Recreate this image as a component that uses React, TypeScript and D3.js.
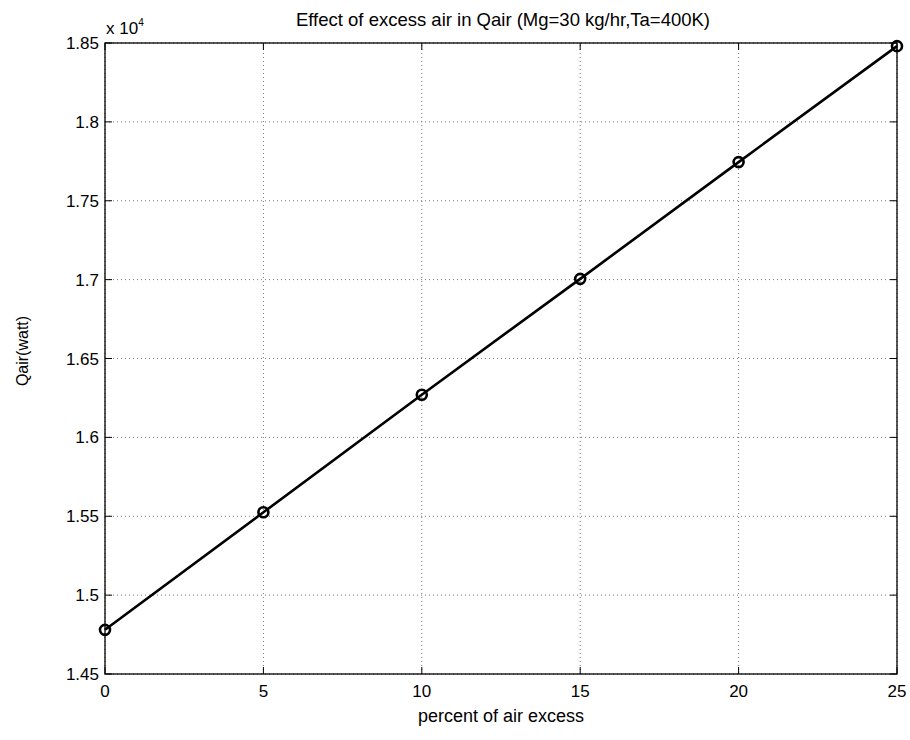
import React from "react";
import * as d3 from "d3";

const excessPercent = [0, 5, 10, 15, 20, 25];
const qairWatt = [14780, 15525, 16270, 17005, 17745, 18480];
const xTicks = [0, 5, 10, 15, 20, 25];
const yTicks = [1.45, 1.5, 1.55, 1.6, 1.65, 1.7, 1.75, 1.8, 1.85];
const yTickLabels = ["1.45", "1.5", "1.55", "1.6", "1.65", "1.7", "1.75", "1.8", "1.85"];
const titleText = "Effect of excess air in Qair (Mg=30 kg/hr,Ta=400K)";
const xLabelText = "percent of air excess";
const yLabelText = "Qair(watt)";

const W = 910;
const H = 740;
const M = { left: 105, right: 13, top: 43, bottom: 66 };
const FONT = "'Liberation Sans', Arial, sans-serif";

export default function App() {
  const x = d3.scaleLinear().domain([0, 25]).range([M.left, W - M.right]);
  const y = d3.scaleLinear().domain([1.45, 1.85]).range([H - M.bottom, M.top]);
  const line = d3
    .line<number>()
    .x((_, i) => x(excessPercent[i]))
    .y((d) => y(d / 1e4));
  const x0 = M.left, x1 = W - M.right, y0 = H - M.bottom, y1 = M.top;
  const tick = 7;
  return (
    <svg width={W} height={H} style={{ position: "absolute", left: 0, top: 0, background: "#fff" }} fontFamily={FONT}>
      <rect x={0} y={0} width={W} height={H} fill="#fff" />
      {/* grid */}
      {xTicks.map((t) => (
        <line key={"gx" + t} x1={x(t)} x2={x(t)} y1={y0} y2={y1} stroke="#777" strokeWidth={1} strokeDasharray="1,3" />
      ))}
      {yTicks.map((t) => (
        <line key={"gy" + t} x1={x0} x2={x1} y1={y(t)} y2={y(t)} stroke="#777" strokeWidth={1} strokeDasharray="1,3" />
      ))}
      {/* axes box */}
      <rect x={x0} y={y1} width={x1 - x0} height={y0 - y1} fill="none" stroke="#000" strokeWidth={1.3} />
      {xTicks.map((t) => (
        <g key={"tx" + t}>
          <line x1={x(t)} x2={x(t)} y1={y0} y2={y0 - tick} stroke="#000" />
          <line x1={x(t)} x2={x(t)} y1={y1} y2={y1 + tick} stroke="#000" />
          <text x={x(t)} y={y0 + 23} fontSize={17} textAnchor="middle" fill="#000">{t}</text>
        </g>
      ))}
      {yTicks.map((t, i) => (
        <g key={"ty" + t}>
          <line x1={x0} x2={x0 + tick} y1={y(t)} y2={y(t)} stroke="#000" />
          <line x1={x1} x2={x1 - tick} y1={y(t)} y2={y(t)} stroke="#000" />
          <text x={x0 - 6} y={y(t) + 6} fontSize={17} textAnchor="end" fill="#000">{yTickLabels[i]}</text>
        </g>
      ))}
      {/* exponent */}
      <text x={x0 + 1} y={y1 - 9} fontSize={17} fill="#000">
        x 10<tspan dy={-8} fontSize={10}>4</tspan>
      </text>
      {/* data */}
      <path d={line(qairWatt) || ""} fill="none" stroke="#000" strokeWidth={2.6} />
      {qairWatt.map((v, i) => (
        <circle key={"p" + i} cx={x(excessPercent[i])} cy={y(v / 1e4)} r={5} fill="none" stroke="#000" strokeWidth={2.6} />
      ))}
      {/* labels */}
      <text x={503} y={26} fontSize={18.5} textAnchor="middle" fill="#000">{titleText}</text>
      <text x={501} y={722} fontSize={18} textAnchor="middle" fill="#000">{xLabelText}</text>
      <text transform={`translate(28, 351) rotate(-90)`} fontSize={16} textAnchor="middle" fill="#000">{yLabelText}</text>
    </svg>
  );
}
